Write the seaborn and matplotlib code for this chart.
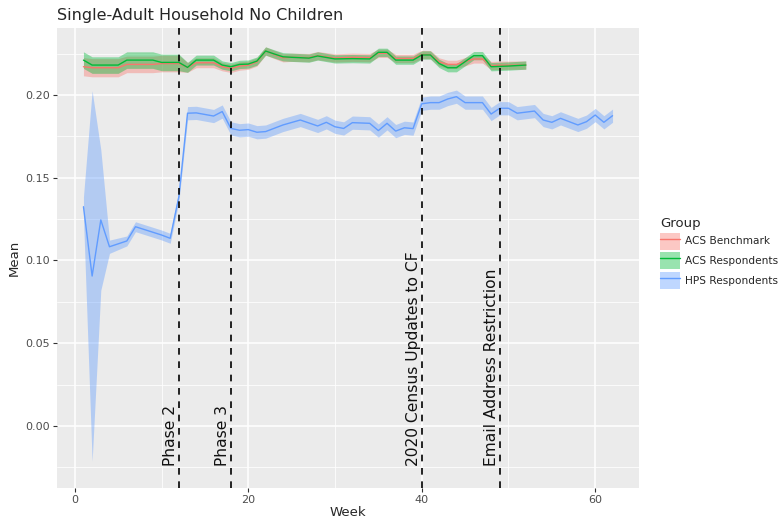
import numpy as np
import pandas as pd
import seaborn as sns
from matplotlib import pyplot as plt
from matplotlib.patches import Patch
from matplotlib.lines import Line2D
from matplotlib.ticker import MultipleLocator

# weeks with a vertex for the ACS series (benchmark and respondents)
acs_weeks = [1, 2, 5, 6, 9, 10, 12, 13, 14, 16, 17, 18, 19, 20, 21, 22, 23, 24, 25, 27,
             28, 30, 32, 34, 35, 36, 37, 39, 40, 41, 42, 43, 44, 46, 47, 48, 49, 50, 52]
acs_resp_mean = [0.2211, 0.2181, 0.2181, 0.2211, 0.2211, 0.2197, 0.2197, 0.2167, 0.2211, 0.2211,
                 0.2181, 0.2171, 0.2185, 0.2187, 0.2205, 0.2266, 0.2248, 0.2231, 0.2228, 0.2223,
                 0.2236, 0.2218, 0.2220, 0.2218, 0.2258, 0.2258, 0.2211, 0.2211, 0.2242, 0.2242,
                 0.2191, 0.2165, 0.2165, 0.2238, 0.2238, 0.2171, 0.2173, 0.2175, 0.2181]
acs_resp_half = [0.0050, 0.0050, 0.0050, 0.0050, 0.0050, 0.0050, 0.0050, 0.0030, 0.0030, 0.0030,
                 0.0025, 0.0025, 0.0025, 0.0025, 0.0025, 0.0025, 0.0025, 0.0025, 0.0025, 0.0025,
                 0.0025, 0.0025, 0.0025, 0.0025, 0.0025, 0.0025, 0.0025, 0.0025, 0.0025, 0.0025,
                 0.0025, 0.0025, 0.0025, 0.0025, 0.0025, 0.0025, 0.0025, 0.0025, 0.0025]
acs_bench_mean = [0.2171, 0.2165, 0.2165, 0.2185, 0.2185, 0.2190, 0.2190, 0.2167, 0.2195, 0.2195,
                  0.2171, 0.2161, 0.2175, 0.2180, 0.2200, 0.2266, 0.2245, 0.2225, 0.2228, 0.2226,
                  0.2238, 0.2224, 0.2228, 0.2226, 0.2252, 0.2252, 0.2221, 0.2221, 0.2245, 0.2244,
                  0.2200, 0.2185, 0.2185, 0.2218, 0.2218, 0.2178, 0.2180, 0.2180, 0.2181]
acs_bench_half = [0.0055, 0.0055, 0.0055, 0.0050, 0.0050, 0.0050, 0.0050, 0.0030, 0.0030, 0.0030,
                  0.0025, 0.0025, 0.0025, 0.0025, 0.0025, 0.0025, 0.0025, 0.0025, 0.0025, 0.0025,
                  0.0025, 0.0025, 0.0025, 0.0025, 0.0025, 0.0025, 0.0025, 0.0025, 0.0025, 0.0025,
                  0.0025, 0.0025, 0.0025, 0.0025, 0.0025, 0.0025, 0.0025, 0.0025, 0.0025]

# HPS respondents
hps_weeks = [1, 2, 3, 4, 6, 7, 10, 11, 12, 13, 14, 16, 17, 18, 19, 20, 21, 22, 24, 26,
             28, 29, 30, 31, 32, 34, 35, 36, 37, 38, 39, 40, 41, 42, 43, 44, 45, 47, 48, 49,
             50, 51, 53, 54, 55, 56, 58, 59, 60, 61, 62]
hps_mean = [0.1325, 0.0906, 0.1245, 0.1083, 0.1118, 0.1204, 0.1154, 0.1134, 0.1386, 0.1890,
            0.1892, 0.1873, 0.1900, 0.1798, 0.1787, 0.1791, 0.1775, 0.1779, 0.1819, 0.1849,
            0.1813, 0.1835, 0.1808, 0.1798, 0.1833, 0.1829, 0.1785, 0.1829, 0.1782, 0.1802,
            0.1797, 0.1947, 0.1954, 0.1954, 0.1976, 0.1990, 0.1954, 0.1954, 0.1885, 0.1920,
            0.1920, 0.1890, 0.1903, 0.1849, 0.1835, 0.1859, 0.1819, 0.1839, 0.1879, 0.1835,
            0.1875]
hps_half = [0.0060, 0.1120, 0.0425, 0.0040, 0.0030, 0.0030, 0.0030, 0.0030, 0.0030, 0.0040,
            0.0040, 0.0040, 0.0040, 0.0040, 0.0040, 0.0040, 0.0040, 0.0040, 0.0040, 0.0040,
            0.0040, 0.0040, 0.0040, 0.0040, 0.0040, 0.0040, 0.0040, 0.0040, 0.0040, 0.0040,
            0.0040, 0.0040, 0.0040, 0.0040, 0.0040, 0.0040, 0.0040, 0.0040, 0.0040, 0.0040,
            0.0040, 0.0040, 0.0040, 0.0040, 0.0040, 0.0040, 0.0040, 0.0040, 0.0040, 0.0040,
            0.0040]

groups = ["ACS Benchmark", "ACS Respondents", "HPS Respondents"]
colors = ["#F8766D", "#00BA38", "#619CFF"]

event_weeks = [12, 18, 40, 49]
event_labels = ["Phase 2", "Phase 3", "2020 Census Updates to CF", "Email Address Restriction"]

# long table for seaborn
df = pd.concat([
    pd.DataFrame({"Week": acs_weeks, "Mean": acs_bench_mean, "half": acs_bench_half, "Group": groups[0]}),
    pd.DataFrame({"Week": acs_weeks, "Mean": acs_resp_mean, "half": acs_resp_half, "Group": groups[1]}),
    pd.DataFrame({"Week": hps_weeks, "Mean": hps_mean, "half": hps_half, "Group": groups[2]}),
])
df["lo"] = df["Mean"] - df["half"]
df["hi"] = df["Mean"] + df["half"]

sns.set_style("darkgrid", {"axes.facecolor": "#EBEBEB", "grid.color": "white"})
plt.rcParams["font.family"] = ["DejaVu Sans"]

fig = plt.figure(figsize=(7.82, 5.20), dpi=100)
ax = fig.add_axes([57 / 782, 1 - 488 / 520, (639 - 57) / 782, (488 - 28) / 520])

# confidence ribbons
for g, c in zip(groups, colors):
    sub = df[df.Group == g]
    ax.fill_between(sub.Week, sub.lo, sub.hi, color=c, alpha=0.4, linewidth=0)

sns.lineplot(data=df, x="Week", y="Mean", hue="Group", hue_order=groups,
             palette=colors, linewidth=1.0, ax=ax, legend=False, errorbar=None)

# event lines + labels
for w, lab in zip(event_weeks, event_labels):
    ax.axvline(w, color="black", linestyle=(0, (4, 4)), linewidth=1.2)
    ax.text(w - 0.1, -0.0245, lab, rotation=90, ha="right", va="bottom",
            fontsize=11.2, color="#111111")

ax.set_xlim(-2.05, 65.05)
ax.set_ylim(-0.0375, 0.2405)
ax.xaxis.set_major_locator(MultipleLocator(20))
ax.xaxis.set_minor_locator(MultipleLocator(10))
ax.yaxis.set_major_locator(MultipleLocator(0.05))
ax.yaxis.set_minor_locator(MultipleLocator(0.025))
ax.set_yticks([0, 0.05, 0.10, 0.15, 0.20])
ax.set_yticklabels(["0.00", "0.05", "0.10", "0.15", "0.20"])
ax.grid(which="major", color="white", linewidth=1.1)
ax.grid(which="minor", color="white", linewidth=0.55)
for s in ax.spines.values():
    s.set_visible(False)
ax.tick_params(which="major", length=3, width=0.8, color="#333333",
               labelsize=8, labelcolor="#4D4D4D", pad=2, bottom=True, left=True)
ax.tick_params(which="minor", length=0)

ax.set_xlabel("Week", fontsize=9.5, labelpad=1)
ax.set_ylabel("Mean", fontsize=9.5, labelpad=3)

fig.text(57 / 782, 1 - 20 / 520, "Single-Adult Household No Children",
         fontsize=11.5, va="baseline", ha="left")

handles = [(Patch(facecolor=c, alpha=0.4, edgecolor="none"), Line2D([], [], color=c, lw=1.0))
           for c in colors]
leg = fig.legend(handles, groups, loc="upper left", bbox_to_anchor=(660 / 782, 1 - 217 / 520),
                 frameon=False, title="Group", fontsize=7.6, title_fontsize=9.5,
                 handlelength=1.9, handleheight=2.1, handletextpad=0.5, labelspacing=0.25,
                 borderpad=0, borderaxespad=0)
leg._legend_box.align = "left"

fig.savefig("out.png", dpi=100)
